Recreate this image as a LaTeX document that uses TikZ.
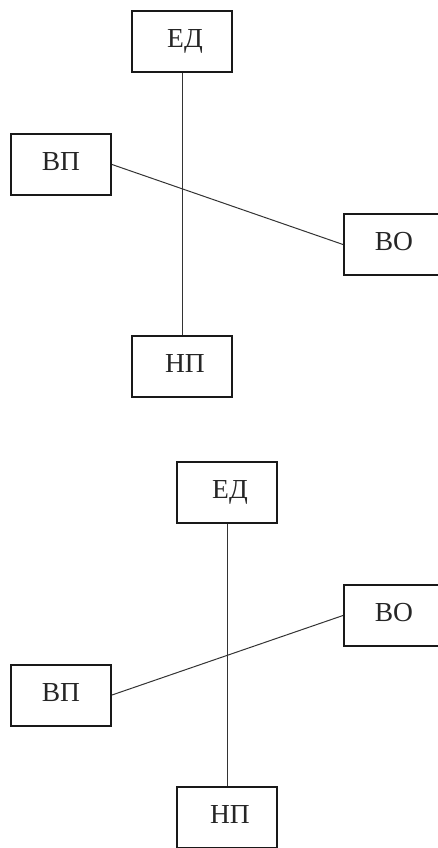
\documentclass[tikz,border=0pt]{standalone}
\usepackage{fontspec}
\setmainfont{Liberation Serif}
\begin{document}
\begin{tikzpicture}[x=1pt,y=-1pt,
  box/.style={draw=black!90,line width=2pt,rectangle,minimum width=100pt,minimum height=61pt,inner sep=0pt},
  lbl/.style={font=\fontsize{27.5}{32}\selectfont,text=black!85,inner sep=0pt,anchor=base},
  conn/.style={draw=black!80,line width=1pt}]
\useasboundingbox (0,0) rectangle (438,848);
% top diagram
\node[box] (ed1) at (182,41.5) {};
\node[box] (vp1) at (61,164.5) {};
\node[box] (vo1) at (394,244.5) {};
\node[box] (np1) at (182,366.5) {};
\node[lbl] (ted1) at ([xshift=3pt,yshift=-6pt]ed1.center) {ЕД};
\node[lbl] (tvp1) at ([xshift=0pt,yshift=-6pt]vp1.center) {ВП};
\node[lbl] (tvo1) at ([xshift=0pt,yshift=-6pt]vo1.center) {ВО};
\node[lbl] (tnp1) at ([xshift=3pt,yshift=-6pt]np1.center) {НП};
\draw[conn] (ed1.south) -- (np1.north);
\draw[conn] (vp1.east) -- (vo1.west);
% bottom diagram
\node[box] (ed2) at (227,492.5) {};
\node[box] (vo2) at (394,615.5) {};
\node[box] (vp2) at (61,695) {};
\node[box] (np2) at (227,817) {};
\node[lbl] (ted2) at ([xshift=3pt,yshift=-6pt]ed2.center) {ЕД};
\node[lbl] (tvo2) at ([xshift=0pt,yshift=-6pt]vo2.center) {ВО};
\node[lbl] (tvp2) at ([xshift=0pt,yshift=-6pt]vp2.center) {ВП};
\node[lbl] (tnp2) at ([xshift=3pt,yshift=-6pt]np2.center) {НП};
\draw[conn] (ed2.south) -- (np2.north);
\draw[conn] (vp2.east) -- (vo2.west);
\end{tikzpicture}
\end{document}
